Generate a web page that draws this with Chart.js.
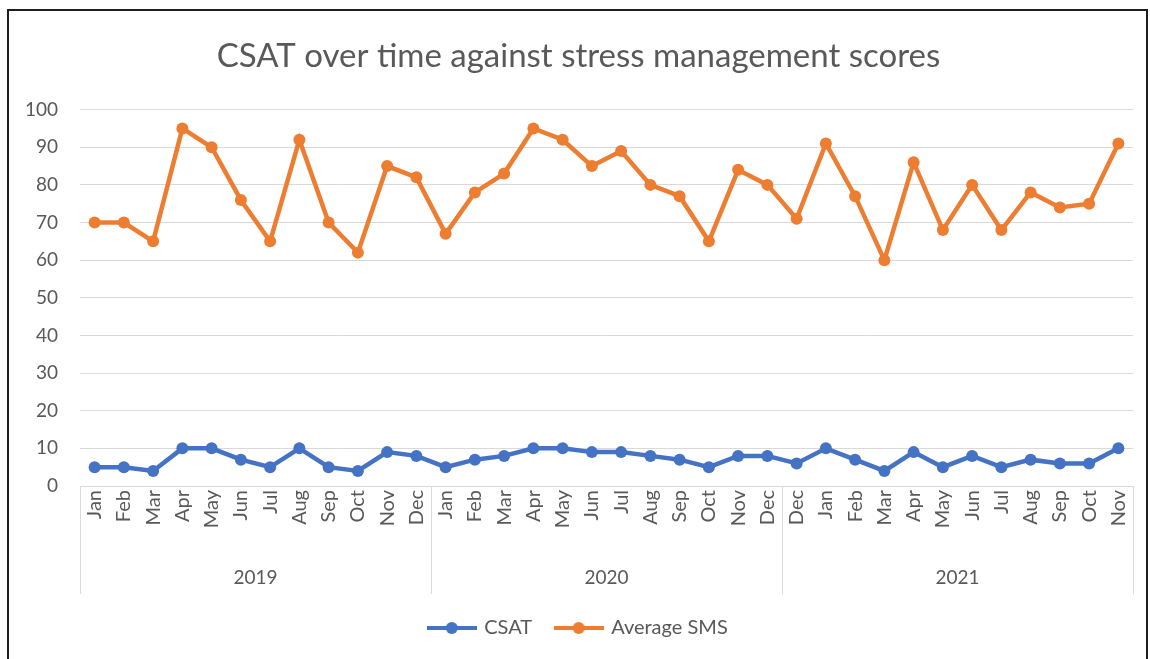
<!DOCTYPE html>
<html>
<head>
<meta charset="utf-8">
<script src="https://cdn.jsdelivr.net/npm/chart.js@4.4.0/dist/chart.umd.min.js"></script>
<style>
  html, body { margin: 0; padding: 0; background: #fff; }
  #frame { position: absolute; left: 7px; top: 9px; width: 1141px; height: 700px; border: 2px solid #1e1e1e; box-sizing: border-box; }
  #wrap { position: absolute; left: 0; top: 0; width: 1150px; height: 659px; }
</style>
</head>
<body>
<div id="frame"></div>
<div id="wrap"><canvas id="chart"></canvas></div>
<script>
const months2019 = ['Jan', 'Feb', 'Mar', 'Apr', 'May', 'Jun', 'Jul', 'Aug', 'Sep', 'Oct', 'Nov', 'Dec'];
const months2020 = ['Jan', 'Feb', 'Mar', 'Apr', 'May', 'Jun', 'Jul', 'Aug', 'Sep', 'Oct', 'Nov', 'Dec'];
const months2021 = ['Dec', 'Jan', 'Feb', 'Mar', 'Apr', 'May', 'Jun', 'Jul', 'Aug', 'Sep', 'Oct', 'Nov'];
const years = ['2019', '2020', '2021'];

const csat = [5, 5, 4, 10, 10, 7, 5, 10, 5, 4, 9, 8,
              5, 7, 8, 10, 10, 9, 9, 8, 7, 5, 8, 8,
              6, 10, 7, 4, 9, 5, 8, 5, 7, 6, 6, 10];
const avgSms = [70, 70, 65, 95, 90, 76, 65, 92, 70, 62, 85, 82,
                67, 78, 83, 95, 92, 85, 89, 80, 77, 65, 84, 80,
                71, 91, 77, 60, 86, 68, 80, 68, 78, 74, 75, 91];

const monthLabels = months2019.concat(months2020, months2021);

const BLUE = '#4472C4';
const ORANGE = '#ED7D31';
const TEXT = '#595959';
const GRID = '#d9d9d9';
const FONT = 'Lato, "Open Sans", sans-serif';

// line-with-dot marker for the legend, like Excel
function legendMarker(color) {
    const c = document.createElement('canvas');
    c.width = 50;
    c.height = 14;
    const g = c.getContext('2d');
    g.strokeStyle = color;
    g.lineWidth = 4;
    g.beginPath();
    g.moveTo(0, 7);
    g.lineTo(50, 7);
    g.stroke();
    g.fillStyle = color;
    g.beginPath();
    g.arc(25, 7, 6, 0, Math.PI * 2);
    g.fill();
    return c;
}

// vertical separators between the year groups on the two-level axis
const yearDividers = {
    id: 'yearDividers',
    afterDraw(chart) {
        const xs = chart.scales.x;
        const ys = chart.scales.xYear;
        const ctx = chart.ctx;
        ctx.save();
        ctx.strokeStyle = GRID;
        ctx.lineWidth = 1;
        for (let i = 0; i <= years.length; i++) {
            const px = Math.round(ys.getPixelForValue(i - 0.5)) + 0.5;
            ctx.beginPath();
            ctx.moveTo(px, xs.top);
            ctx.lineTo(px, ys.bottom);
            ctx.stroke();
        }
        ctx.restore();
    }
};

new Chart(document.getElementById('chart'), {
    type: 'line',
    data: {
        labels: monthLabels,
        datasets: [{
            label: 'CSAT',
            data: csat,
            borderColor: BLUE,
            backgroundColor: BLUE,
            pointBackgroundColor: BLUE,
            borderWidth: 4.5,
            pointRadius: 6,
            pointBorderWidth: 0,
            tension: 0,
        }, {
            label: 'Average SMS',
            data: avgSms,
            borderColor: ORANGE,
            backgroundColor: ORANGE,
            pointBackgroundColor: ORANGE,
            borderWidth: 4.5,
            pointRadius: 6,
            pointBorderWidth: 0,
            tension: 0,
        }]
    },
    options: {
        responsive: true,
        maintainAspectRatio: false,
        animation: false,
        layout: { padding: { left: 24, right: 17, top: 0, bottom: 11 } },
        plugins: {
            title: {
                display: true,
                text: 'CSAT over time against stress management scores',
                color: TEXT,
                font: { family: FONT, size: 33, weight: 'normal' },
                padding: { top: 37, bottom: 33 },
            },
            legend: {
                position: 'bottom',
                labels: {
                    usePointStyle: true,
                    pointStyleWidth: 45,
                    padding: 24,
                    color: TEXT,
                    font: { family: FONT, size: 20 },
                    generateLabels(chart) {
                        return chart.data.datasets.map((ds, i) => ({
                            text: ds.label,
                            fontColor: TEXT,
                            pointStyle: legendMarker(ds.borderColor),
                            datasetIndex: i,
                            hidden: false,
                            lineWidth: 0,
                        }));
                    }
                }
            },
            tooltip: { enabled: false },
        },
        scales: {
            x: {
                type: 'category',
                offset: true,
                grid: { display: false, drawTicks: false },
                border: { display: true, color: GRID, width: 1 },
                ticks: {
                    autoSkip: false,
                    maxRotation: 90,
                    minRotation: 90,
                    padding: 4,
                    color: TEXT,
                    font: { family: FONT, size: 20 },
                },
                afterFit(scale) { scale.height = 58; },
            },
            xYear: {
                type: 'category',
                position: 'bottom',
                labels: years,
                offset: true,
                weight: 1,
                grid: { display: false, drawTicks: false },
                border: { display: false },
                ticks: {
                    padding: 22,
                    color: TEXT,
                    font: { family: FONT, size: 19 },
                },
                afterFit(scale) { scale.height = 50; },
            },
            y: {
                min: 0,
                max: 100,
                ticks: {
                    stepSize: 10,
                    padding: 22,
                    color: TEXT,
                    font: { family: FONT, size: 19 },
                },
                grid: { color: GRID, drawTicks: false },
                border: { display: false },
                afterFit(scale) { scale.width = 56; },
            }
        }
    },
    plugins: [yearDividers]
});
</script>
</body>
</html>
